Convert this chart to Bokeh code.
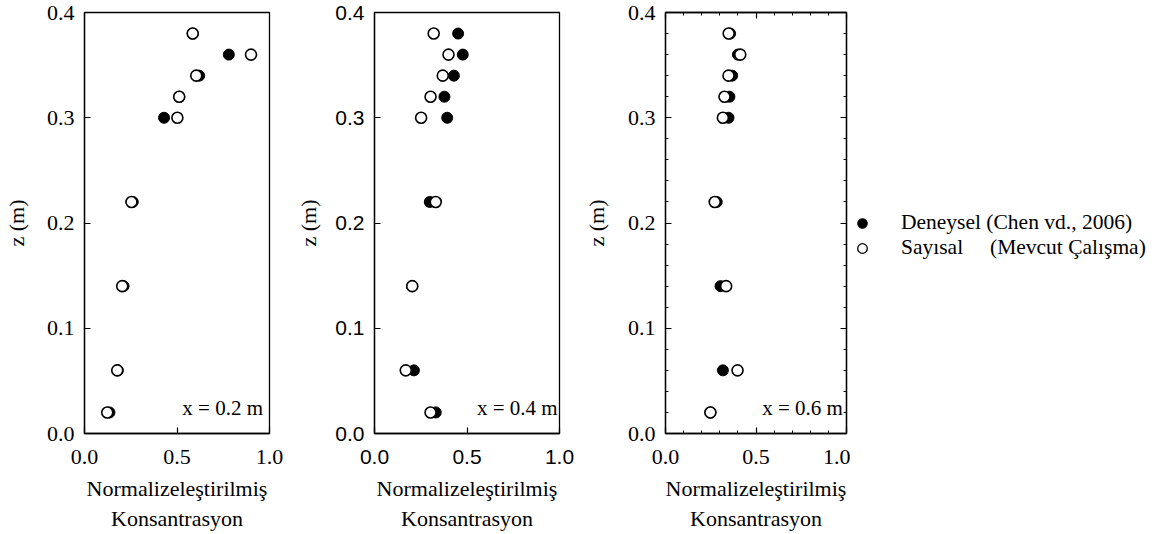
from bokeh.plotting import figure
from bokeh.layouts import row
from bokeh.models import FixedTicker, Label, Legend, LegendItem, LinearAxis, Range1d
from bokeh.embed import file_html
from bokeh.resources import INLINE

# ---- data ----
z = [0.38, 0.36, 0.34, 0.32, 0.30, 0.22, 0.14, 0.06, 0.02]
exp_02 = [0.585, 0.78, 0.62, 0.512, 0.43, 0.261, 0.211, 0.18, 0.135]
num_02 = [0.585, 0.90, 0.604, 0.512, 0.502, 0.254, 0.204, 0.177, 0.123]
exp_04 = [0.452, 0.477, 0.429, 0.378, 0.393, 0.299, 0.204, 0.213, 0.331]
num_04 = [0.32, 0.40, 0.369, 0.303, 0.252, 0.331, 0.204, 0.169, 0.303]
exp_06 = [0.357, 0.40, 0.368, 0.353, 0.348, 0.283, 0.304, 0.317, 0.248]
num_06 = [0.349, 0.413, 0.348, 0.326, 0.317, 0.272, 0.335, 0.398, 0.248]

x_ticks = [0.0, 0.5, 1.0]
x_tick_labels = ["0.0", "0.5", "1.0"]
y_ticks = [0.0, 0.1, 0.2, 0.3, 0.4]
y_tick_labels = ["0.0", "0.1", "0.2", "0.3", "0.4"]
x_minor = [0.1, 0.2, 0.3, 0.4, 0.6, 0.7, 0.8, 0.9]
y_minor = [round(0.02 * i, 2) for i in range(21)]

panel_labels = ["x = 0.2 m", "x = 0.4 m", "x = 0.6 m"]
x_title = "Normalizeleştirilmiş\nKonsantrasyon"
y_title = "z (m)"
legend_labels = ["Deneysel (Chen vd., 2006)",
                 "Sayısal\u00a0\u00a0\u00a0\u00a0 (Mevcut Çalışma)"]

SERIF = "Liberation Serif"
SANS = "Liberation Sans"


def style_axis(ax, ticks, labels, font, size, minor=None, show_labels=True):
    ax.ticker = FixedTicker(ticks=ticks, minor_ticks=minor or [])
    if show_labels:
        ax.major_label_overrides = {t: l for t, l in zip(ticks, labels)}
        ax.major_label_text_font_size = size
    else:
        ax.major_label_overrides = {t: "" for t in ticks}
        ax.major_label_text_font_size = "1px"
    ax.major_tick_in = 6
    ax.major_tick_out = 0
    ax.minor_tick_in = 3 if minor else 0
    ax.minor_tick_out = 0
    ax.major_tick_line_color = "black"
    ax.minor_tick_line_color = "black"
    ax.axis_line_color = "black"
    ax.axis_line_width = 1.3
    ax.major_tick_line_width = 1.2
    ax.major_label_text_font = font
    ax.major_label_text_color = "black"


def make_panel(exp, num, label, label_x, width, left, right, tick_font, tick_size,
               ylab_standoff, minor=False):
    p = figure(width=width, height=534, x_range=Range1d(0, 1), y_range=Range1d(0, 0.4),
               output_backend="svg", toolbar_location=None,
               min_border_left=left, min_border_right=right,
               min_border_top=12, min_border_bottom=101)
    p.grid.visible = False
    p.outline_line_color = "black"
    p.outline_line_width = 1.3
    p.background_fill_color = "white"
    p.border_fill_color = "white"

    style_axis(p.xaxis[0], x_ticks, x_tick_labels, tick_font, tick_size, x_minor if minor else None)
    style_axis(p.yaxis[0], y_ticks, y_tick_labels, tick_font, tick_size, y_minor if minor else None)
    p.xaxis[0].major_label_standoff = 16
    p.yaxis[0].major_label_standoff = 10

    for ax, title, stand in ((p.xaxis[0], x_title, 9), (p.yaxis[0], y_title, ylab_standoff)):
        ax.axis_label = title
        ax.axis_label_text_font = SERIF
        ax.axis_label_text_font_size = "22px"
        ax.axis_label_text_font_style = "normal"
        ax.axis_label_text_color = "black"
        ax.axis_label_standoff = stand

    if minor:
        top = LinearAxis()
        style_axis(top, x_ticks, x_tick_labels, tick_font, tick_size, x_minor, show_labels=False)
        top.major_label_standoff = 0
        p.add_layout(top, "above")
        rt = LinearAxis()
        style_axis(rt, y_ticks, y_tick_labels, tick_font, tick_size, y_minor, show_labels=False)
        rt.major_label_standoff = 0
        p.add_layout(rt, "right")

    r_exp = p.scatter(exp, z, marker="circle", size=11, fill_color="black", line_color="black")
    r_num = p.scatter(num, z, marker="circle", size=11, fill_color="white",
                      line_color="black", line_width=1.6)

    p.add_layout(Label(x=label_x, y=0.024, text=label,
                       text_align="right", text_baseline="middle",
                       text_font=SERIF, text_font_size="21px", text_color="black"))
    return p


p1 = make_panel(exp_02, num_02, panel_labels[0], 0.965, 290, 84, 21, SERIF, "22px", 15)
p2 = make_panel(exp_04, num_04, panel_labels[1], 0.99, 290, 84, 21, SANS, "21px", 11)
p3 = make_panel(exp_06, num_06, panel_labels[2], 0.98, 270, 82, 4, SERIF, "22px", 16, minor=True)

# legend panel (markers kept outside the visible range; only the legend shows)
pl = figure(width=316, height=534, x_range=Range1d(0, 1), y_range=Range1d(0, 1),
            output_backend="svg", toolbar_location=None,
            min_border_left=0, min_border_right=0, min_border_top=0, min_border_bottom=0)
pl.axis.visible = False
pl.grid.visible = False
pl.outline_line_color = None
le = pl.scatter([-10], [-10], marker="circle", size=11, fill_color="black", line_color="black")
ln = pl.scatter([-10], [-10], marker="circle", size=11, fill_color="white",
                line_color="black", line_width=1.3)
legend = Legend(items=[LegendItem(label=legend_labels[0], renderers=[le]),
                       LegendItem(label=legend_labels[1], renderers=[ln])],
                location=(0, 173), border_line_color=None, background_fill_alpha=0,
                margin=0, padding=7, glyph_width=24, glyph_height=24, label_height=24,
                spacing=-3, label_standoff=27, label_text_font=SERIF,
                label_text_font_size="21.5px", label_text_color="black")
pl.add_layout(legend, "center")

layout = row(p1, p2, p3, pl)
open("out.html", "w").write(file_html(layout, INLINE))
